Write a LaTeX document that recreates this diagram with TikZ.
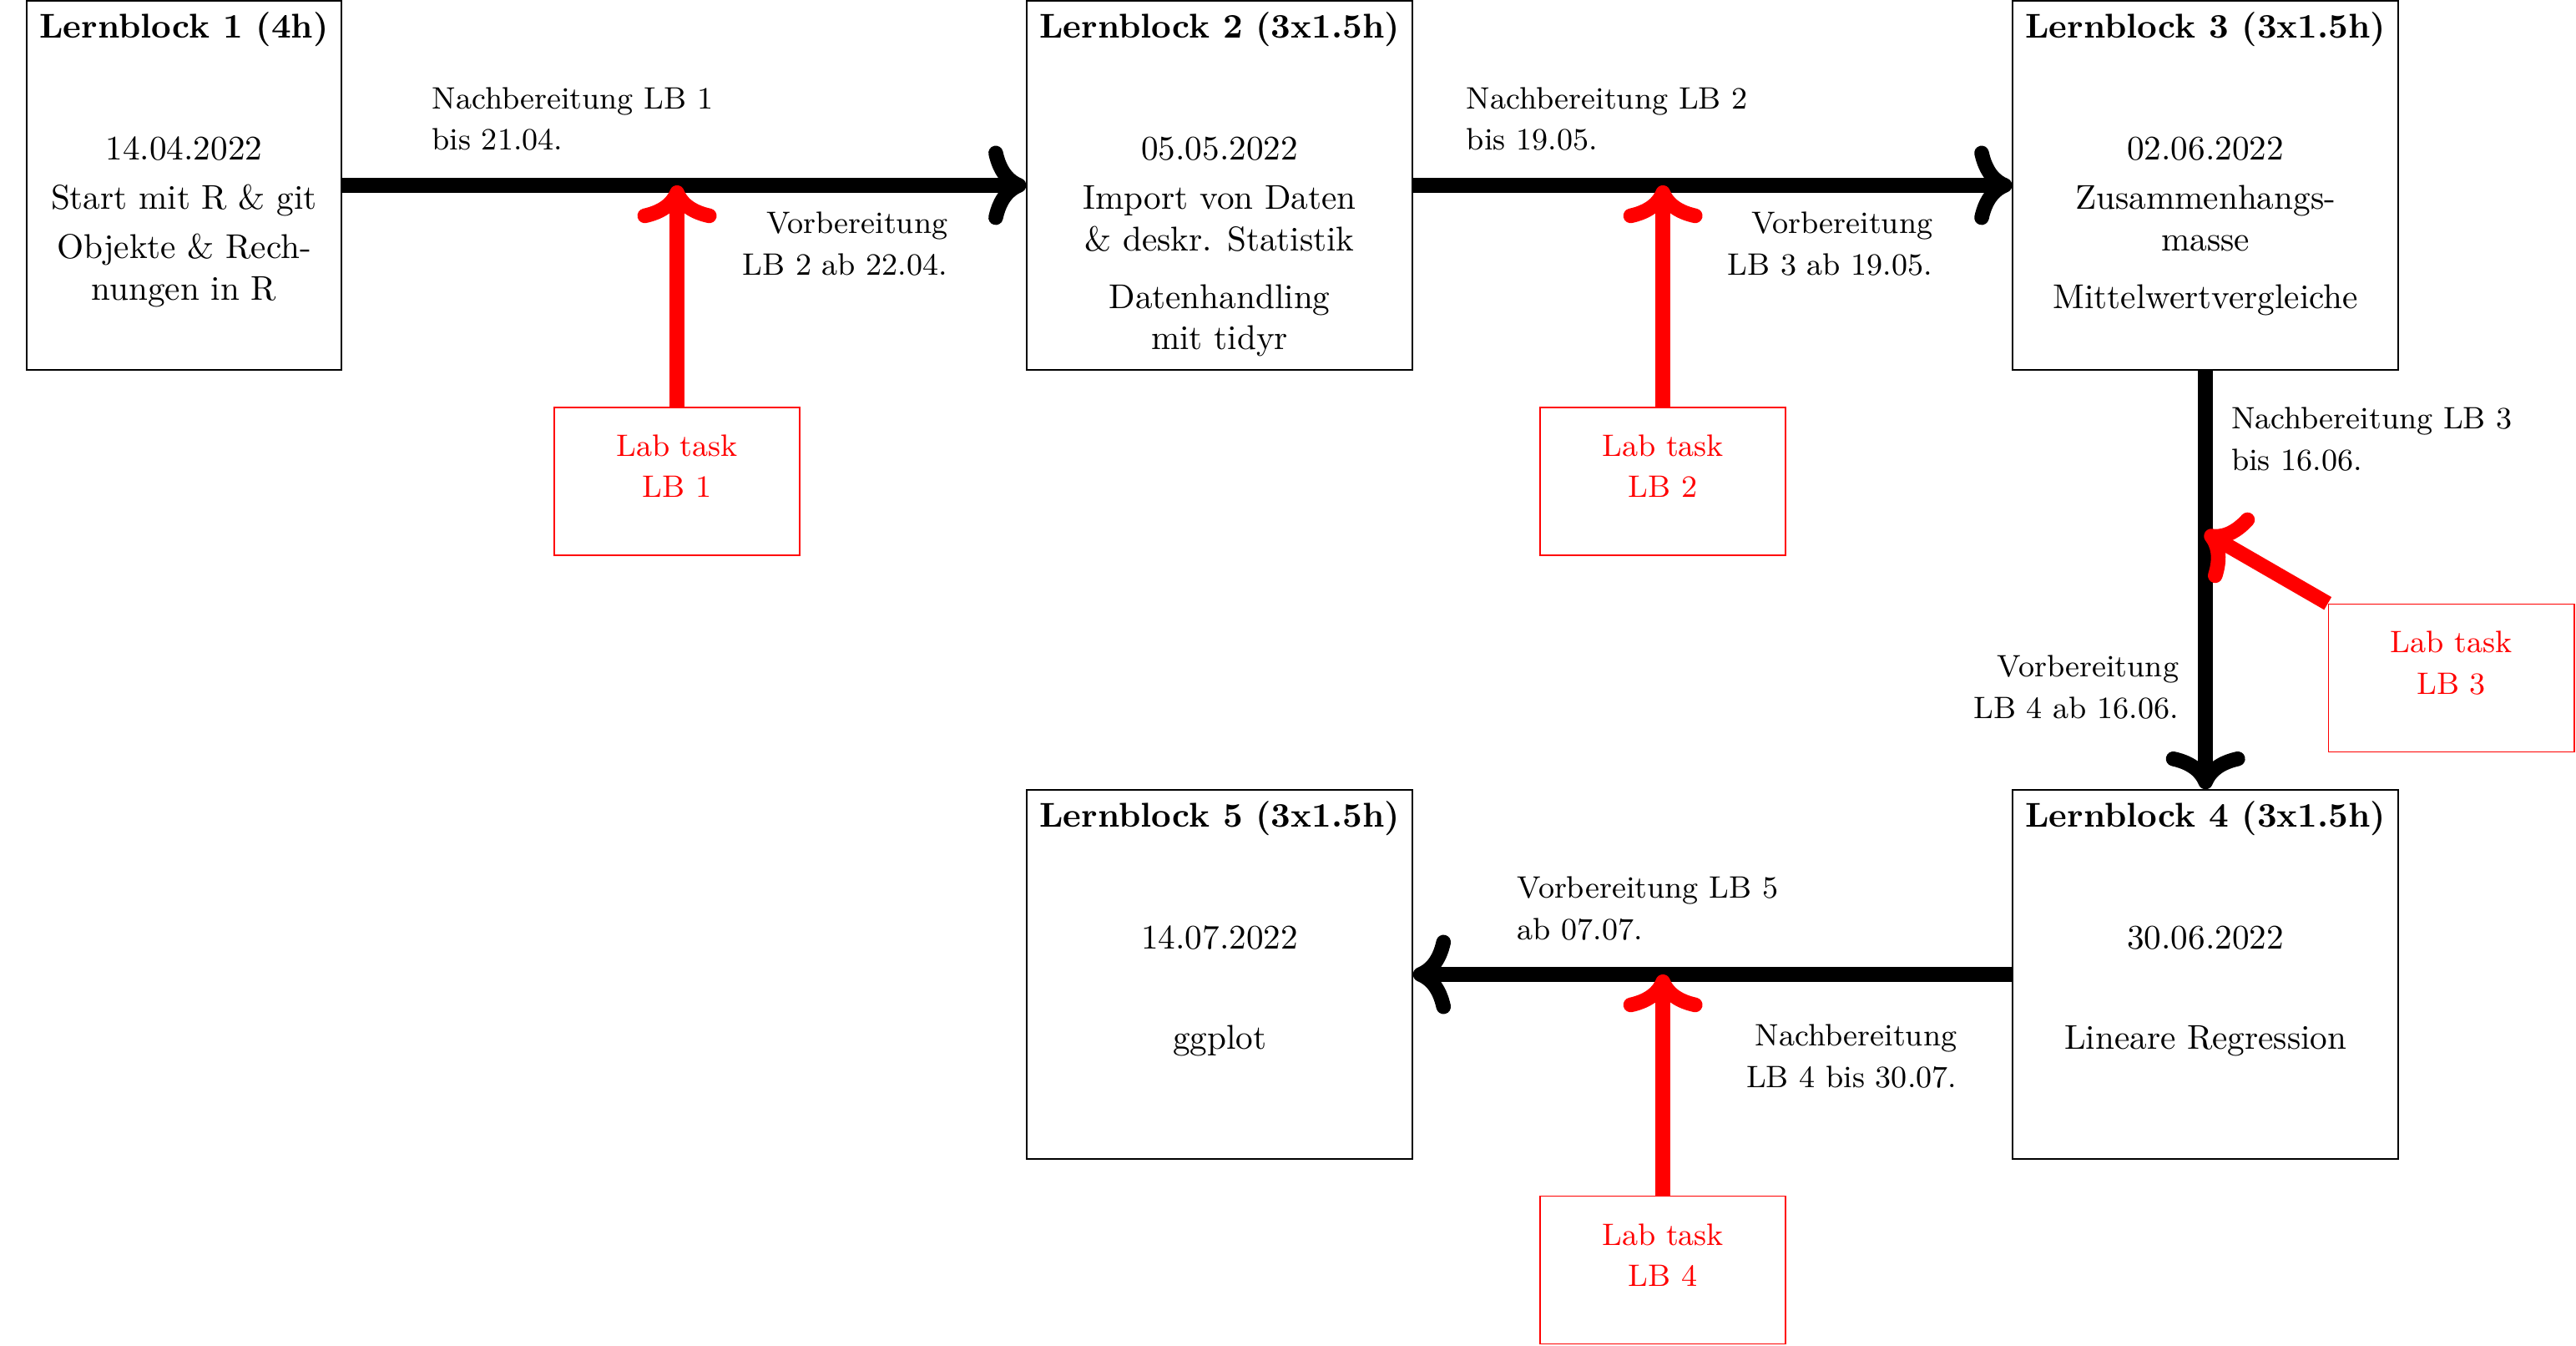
\documentclass[tikz,border=0pt]{standalone}
\usepackage[svgnames]{xcolor}
\usepackage{tikz}
\usetikzlibrary{arrows.meta}
\usetikzlibrary{positioning}
\tikzset{flow/.style={->,>={Computer Modern Rightarrow},line width=1.5mm}}

\begin{document}
\begin{tikzpicture}[scale=1]
		\tikzstyle{Block}=[rectangle,draw=Black,minimum width=3.94cm,minimum height=3.77cm]
		\tikzstyle{Lab}=[rectangle,draw=Red,minimum width=2.51cm,minimum height=1.51cm]
		\tikzstyle{Note}=[font=\small,inner sep=0pt]
		\tikzstyle{Flow}=[flow,draw=Black]
		\tikzstyle{Task}=[flow,draw=Red]

		\def\topRow {-1.894}
		\def\botRow {-9.957}

		\useasboundingbox (0,0) rectangle (26.33,-13.75);

		% Lernbloecke
		\node [Block,minimum width=3.22cm] (LB1) at (1.881,\topRow) {};
		\node [Block] (LB2) at (12.466,\topRow) {};
		\node [Block] (LB3) at (22.543,\topRow) {};
		\node [Block] (LB4) at (22.543,\botRow) {};
		\node [Block] (LB5) at (12.466,\botRow) {};

		\node [align=center,anchor=north] (T1) at (LB1.north) {\textbf{Lernblock 1 (4h)}\\[23.4pt]14.04.2022\\[2.4pt]Start mit R \& git\\[2.3pt]Objekte \& Rech-\\nungen in R};
		\node [align=center,anchor=north] (T2) at (LB2.north) {\textbf{Lernblock 2 (3x1.5h)}\\[23.4pt]05.05.2022\\[2.4pt]Import von Daten\\\& deskr. Statistik\\[4.75pt]Datenhandling\\mit tidyr};
		\node [align=center,anchor=north] (T3) at (LB3.north) {\textbf{Lernblock 3 (3x1.5h)}\\[23.4pt]02.06.2022\\[2.4pt]Zusammenhangs-\\masse\\[4.75pt]Mittelwertvergleiche};
		\node [align=center,anchor=north] (T4) at (LB4.north) {\textbf{Lernblock 4 (3x1.5h)}\\[23.4pt]30.06.2022\\[17.1pt]Lineare Regression};
		\node [align=center,anchor=north] (T5) at (LB5.north) {\textbf{Lernblock 5 (3x1.5h)}\\[23.4pt]14.07.2022\\[17.1pt]ggplot};

		% Lab tasks
		\foreach \i/\x/\y in {1/6.920/-4.919,2/16.997/-4.919,3/25.055/-6.928,4/16.997/-12.978}
		{
			\node [Lab] (Lab\i) at (\x,\y) {};
			\node [align=center,font=\small,text=Red,anchor=north] (LabT\i) at ([yshift=-4.6pt]Lab\i.north) {Lab task\\[1pt]LB \i};
		}

		\draw [Flow] (LB1.east) -- (LB2.west);
		\draw [Flow] (LB2.east) -- (LB3.west);
		\draw [Flow] (LB3.south) -- (LB4.north);
		\draw [Flow] (LB4.west) -- (LB5.east);

		\coordinate (M34) at ([shift={(150:1.45)}]Lab3.north west);
		\draw [Task] (Lab1.north) -- (Lab1.north |- LB1.east);
		\draw [Task] (Lab2.north) -- (Lab2.north |- LB2.east);
		\draw [Task] (Lab3.north west) -- (M34);
		\draw [Task] (Lab4.north) -- (Lab4.north |- LB4.west);

		% Nach- und Vorbereitung
		\node [Note,anchor=north west,align=left] (N1) at (4.408,-0.886) {Nachbereitung LB 1\\[1pt]bis 21.04.};
		\node [Note,anchor=north east,align=right] (V1) at (9.693,-2.161) {Vorbereitung\\[1pt]LB 2 ab 22.04.};
		\node [Note,anchor=north west,align=left] (N2) at (14.983,-0.886) {Nachbereitung LB 2\\[1pt]bis 19.05.};
		\node [Note,anchor=north east,align=right] (V2) at (19.761,-2.161) {Vorbereitung\\[1pt]LB 3 ab 19.05.};
		\node [Note,anchor=north west,align=left] (N3) at (22.799,-4.158) {Nachbereitung LB 3\\[1pt]bis 16.06.};
		\node [Note,anchor=north east,align=right] (V3) at (22.276,-6.692) {Vorbereitung\\[1pt]LB 4 ab 16.06.};
		\node [Note,anchor=north west,align=left] (V4) at (15.501,-8.951) {Vorbereitung LB 5\\[1pt]ab 07.07.};
		\node [Note,anchor=north east,align=right] (N4) at (20.009,-10.463) {Nachbereitung\\[1pt]LB 4 bis 30.07.};

\end{tikzpicture}
\end{document}
